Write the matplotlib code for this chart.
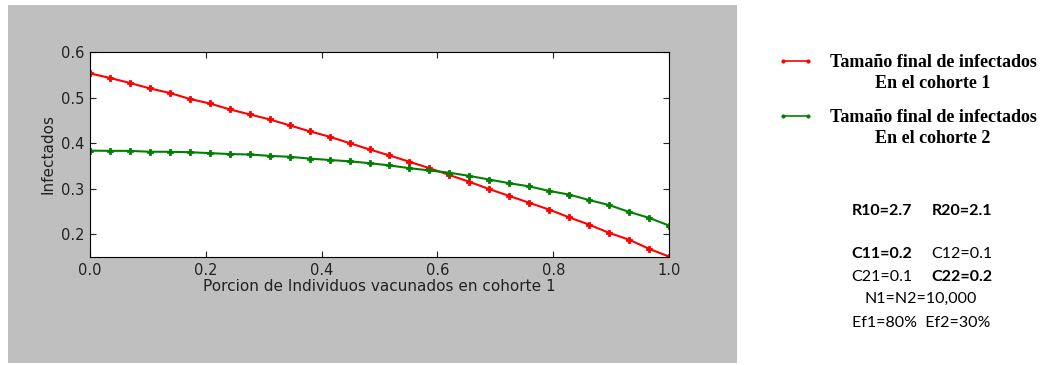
import matplotlib.pyplot as plt
import numpy as np
from matplotlib.patches import Rectangle
from matplotlib.lines import Line2D

# Data (30 points, x from 0 to 1)
x = np.linspace(0, 1, 30)
cohorte1 = [0.553, 0.543, 0.532, 0.520, 0.510, 0.497, 0.487, 0.474, 0.463, 0.452,
            0.439, 0.426, 0.414, 0.400, 0.386, 0.373, 0.359, 0.345, 0.330, 0.315,
            0.299, 0.284, 0.269, 0.254, 0.237, 0.221, 0.203, 0.188, 0.168, 0.151]
cohorte2 = [0.3835, 0.383, 0.383, 0.381, 0.381, 0.380, 0.378, 0.376, 0.375, 0.372,
            0.370, 0.366, 0.363, 0.360, 0.356, 0.351, 0.345, 0.340, 0.335, 0.328,
            0.320, 0.312, 0.305, 0.295, 0.287, 0.275, 0.264, 0.249, 0.236, 0.219]
xticks = [0.0, 0.2, 0.4, 0.6, 0.8, 1.0]
yticks = [0.2, 0.3, 0.4, 0.5, 0.6]
legend_labels = ["Tamaño final de infectados\nEn el cohorte 1",
                 "Tamaño final de infectados\nEn el cohorte 2"]

fig = plt.figure(figsize=(10.45, 3.65), dpi=100)
fig.patch.set_facecolor("white")

# gray background of the original matplotlib window
fig.patches.append(Rectangle((8 / 1045, 2 / 365), 729 / 1045, 358 / 365,
                             transform=fig.transFigure, facecolor="#bfbfbf",
                             edgecolor="none", zorder=-5))

ax = fig.add_axes([90 / 1045, 108 / 365, 579 / 1045, 205 / 365])
ax.set_zorder(2)
ax.plot(x, cohorte1, color="red", lw=1.5, marker="P", ms=4.5, mew=0.6)
ax.plot(x, cohorte2, color="green", lw=1.5, marker="P", ms=4.5, mew=0.6)

ax.set_xlim(0, 1)
ax.set_ylim(0.15, 0.6)
ax.set_xticks(xticks)
ax.set_yticks(yticks)
ax.set_xticklabels(["%.1f" % t for t in xticks])
ax.set_yticklabels(["%.1f" % t for t in yticks])
ax.tick_params(direction="in", top=True, right=True, length=4, labelsize=10.5,
               colors="#222222", pad=4)
for s in ax.spines.values():
    s.set_color("black")
ax.set_xlabel("Porcion de Individuos vacunados en cohorte 1", fontsize=11,
              color="#222222", labelpad=1)
ax.set_ylabel("Infectados", fontsize=11, color="#222222", labelpad=4)

# legend on the right side
serif = {"family": "Liberation Serif", "weight": "bold", "size": 13}
for (ly, col, lab) in [(61, "red", legend_labels[0]), (116, "green", legend_labels[1])]:
    fig.add_artist(Line2D([783 / 1045, 808 / 1045], [1 - ly / 365, 1 - ly / 365],
                          transform=fig.transFigure, color=col, lw=1.2,
                          marker="o", ms=3, mew=0))
    fig.text(933 / 1045, 1 - (ly + 12) / 365, lab, ha="center", va="center",
             linespacing=1.3, color="black", **serif)

# parameter annotations
txt = {"family": "Lato", "size": 11.5, "color": "black"}
fig.text(882 / 1045, 1 - 211 / 365, "R10=2.7", ha="center", va="center", weight="bold", **txt)
fig.text(962 / 1045, 1 - 211 / 365, "R20=2.1", ha="center", va="center", weight="bold", **txt)
fig.text(882 / 1045, 1 - 254 / 365, "C11=0.2", ha="center", va="center", weight="bold", **txt)
fig.text(962 / 1045, 1 - 254 / 365, "C12=0.1", ha="center", va="center", **txt)
fig.text(882 / 1045, 1 - 277 / 365, "C21=0.1", ha="center", va="center", **txt)
fig.text(962 / 1045, 1 - 277 / 365, "C22=0.2", ha="center", va="center", weight="bold", **txt)
fig.text(921 / 1045, 1 - 299 / 365, "N1=N2=10,000", ha="center", va="center", **txt)
fig.text(921 / 1045, 1 - 323 / 365, "Ef1=80%  Ef2=30%", ha="center", va="center", **txt)

fig.savefig("out.png", dpi=100, facecolor="white")
